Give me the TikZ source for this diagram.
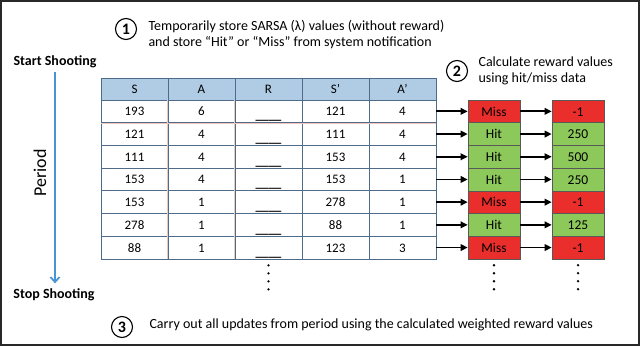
\documentclass[tikz,border=0pt]{standalone}
\usepackage{fontspec}
\setmainfont{Carlito}
\usetikzlibrary{calc, positioning, arrows.meta}

\definecolor{headerBlue}{RGB}{176,204,228}
\definecolor{tableLine}{RGB}{78,108,138}
\definecolor{rowSalmon}{RGB}{240,200,185}
\definecolor{missRed}{RGB}{234,46,44}
\definecolor{hitGreen}{RGB}{140,200,90}
\definecolor{periodBlue}{RGB}{74,148,212}
\definecolor{frameGray}{RGB}{40,40,40}

\begin{document}
\begin{tikzpicture}[
	x=1pt, y=-1pt,
	font=\fontsize{13}{15}\selectfont,
	% Node styles
	cellNode/.style={draw=tableLine, line width=0.8pt, minimum width=67pt, minimum height=22.7pt, inner sep=0pt, text height=9pt, text depth=0pt},
	headNode/.style={cellNode, fill=headerBlue, minimum height=22pt},
	resultNode/.style={draw=black!65, line width=0.6pt, minimum width=52pt, minimum height=22.7pt, inner sep=0pt, text height=9.5pt, text depth=0pt, font=\fontsize{13.5}{15}\selectfont},
	resMiss/.style={fill=missRed},
	resHit/.style={fill=hitGreen},
	stepNum/.style={circle, draw=black, line width=1.1pt, minimum size=21pt, inner sep=0pt, font=\fontsize{16}{17}\selectfont\bfseries},
	noteText/.style={align=left, anchor=west, font=\fontsize{14}{16}\selectfont},
	sideText/.style={font=\fontsize{14}{16}\selectfont\bfseries},
	% Line styles
	flowArrow/.style={-{Triangle[length=7pt,width=6.5pt]}, line width=1.8pt},
	salmonLine/.style={draw=rowSalmon, line width=0.5pt},
	periodArrow/.style={draw=periodBlue, line width=1.8pt, -{Straight Barb[length=5pt,width=9pt]}}
	]
	
	\useasboundingbox (0,0) rectangle (640,346);
	\draw[line width=2pt, draw=frameGray] (1,1) rectangle (639,345);
	
	% =========================================================
	% 1. PERIOD (left side)
	% =========================================================
	
	\node[sideText] (startNode) at (55,62) {Start Shooting};
	\node[sideText] (stopNode) at (54,295) {Stop Shooting};
	\node[font=\fontsize{18}{20}\selectfont, rotate=90] (periodNode) at (40,173) {Period};
	\draw[periodArrow] (startNode.south) -- ([yshift=2pt]startNode.south |- stopNode.north);
	
	% =========================================================
	% 2. THE SARSA TABLE
	% =========================================================
	
	% Header row
	\foreach \lab [count=\c] in {S, A, R, S’, A’}
		\node[headNode] (t-0-\c) at ({101+67*(\c-0.5)}, 89) {\lab};
	
	% Body rows, hit/miss boxes and reward boxes
	\foreach \s/\a/\sp/\ap/\res/\rew [count=\r] in {
			193/6/121/4/Miss/-1,
			121/4/111/4/Hit/250,
			111/4/153/4/Hit/500,
			153/4/153/1/Hit/250,
			153/1/278/1/Miss/-1,
			278/1/88/1/Hit/125,
			88/1/123/3/Miss/-1}{
		\pgfmathsetmacro{\yy}{100+22.7*(\r-0.5)}
		\node[cellNode] (t-\r-1) at (134.5,\yy) {\s};
		\node[cellNode] (t-\r-2) at (201.5,\yy) {\a};
		\node[cellNode] (t-\r-3) at (268.5,\yy) {\raisebox{-4pt}{\textbf{\_\_\_\_}}};
		\node[cellNode] (t-\r-4) at (335.5,\yy) {\sp};
		\node[cellNode] (t-\r-5) at (402.5,\yy) {\ap};
		
		\node[resultNode, res\res] (h-\r) at (494,\yy) {\res};
		\node[resultNode, res\res] (w-\r) at (578,\yy) {\rew};
		
		\draw[flowArrow] (t-\r-5.east) -- (h-\r.west);
		\draw[flowArrow] (h-\r.east) -- (w-\r.west);
	}
	
	% Salmon rules of the table
	\draw[salmonLine] ([xshift=-0.6pt]t-1-2.north west) -- ([xshift=-0.6pt]t-7-2.south west);
	\draw[salmonLine] ([xshift=-0.6pt]t-1-3.north west) -- ([xshift=-0.6pt]t-7-3.south west);
	\draw[salmonLine] ([yshift=-0.6pt]t-1-1.south west) -- ([yshift=-0.6pt]t-1-5.south east);
	
	% Continuation dots
	\foreach \k in {0,...,3}{
		\fill ($(t-7-3.south)+(0,6+8*\k)$) circle (1.3pt);
		\fill ($(h-7.south)+(0,6+8*\k)$) circle (1.3pt);
		\fill ($(w-7.south)+(0,6+8*\k)$) circle (1.3pt);
	}
	
	% =========================================================
	% 3. STEP NOTES
	% =========================================================
	
	\node[stepNum] (num1) at (126,29) {1};
	\node[noteText] (note1) at (145,35) {Temporarily store SARSA (λ) values (without reward)\\and store “Hit” or “Miss” from system notification};
	
	\node[stepNum] (num2) at (457,71) {2};
	\node[noteText] (note2) at (475,71) {Calculate reward values\\using hit/miss data};
	
	\node[stepNum] (num3) at (122,327) {3};
	\node[noteText] (note3) at (146,325) {Carry out all updates from period using the calculated weighted reward values};
	
\end{tikzpicture}
\end{document}
